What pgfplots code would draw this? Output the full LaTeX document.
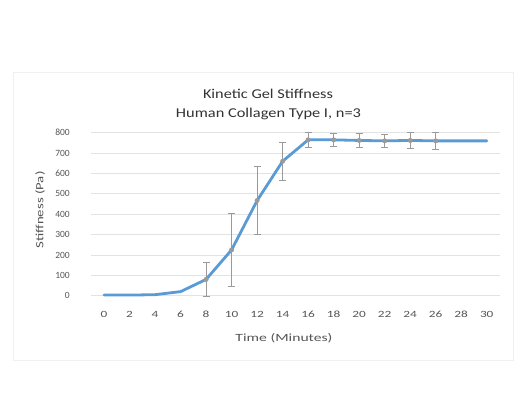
\documentclass[border=0pt]{standalone}
\usepackage{fontspec}
\setmainfont{Carlito}
\usepackage{graphicx}
\usepackage{pgfplots}
\usepackage{pgfplotstable}
\pgfplotsset{compat=1.18}
\definecolor{xlblue}{HTML}{5B9BD5}
\definecolor{gridgray}{HTML}{E3E3E3}
\definecolor{labgray}{HTML}{555555}
\definecolor{errgray}{HTML}{9A9A9A}
\definecolor{titlegray}{HTML}{333333}
\pgfplotstableread{
t y err
0 3 0
2 3 0
4 5 0
6 20 0
8 80 82
10 225 178
12 467 167
14 660 92
16 765 36
18 765 33
20 762 34
22 760 33
24 762 38
26 760 41
28 760 0
30 760 0
}\stiff
\pgfplotstableread{
t y err
8 80 82
10 225 178
12 467 167
14 660 92
16 765 36
18 765 33
20 762 34
22 760 33
24 762 38
26 760 41
}\stifferr
\begin{document}
\begin{tikzpicture}[x=1pt,y=1pt]
\fill[white] (0,0) rectangle (515,418);
\draw[gray!12, line width=0.8pt] (13.5,58) rectangle (513.5,346);
\begin{axis}[
  at={(91.3pt,122.3pt)}, anchor=south west,
  scale only axis, width=408.2pt, height=163pt,
  xmin=-1, xmax=31, ymin=0, ymax=800,
  xtick={0,2,...,30}, ytick={0,100,...,800},
  axis line style={draw=none},
  major tick length=0pt,
  ymajorgrids, grid style={color=gridgray, line width=0.8pt},
  clip=false,
  /pgf/number format/assume math mode=true,
  yticklabel style={font=\fontsize{9.5}{11}\selectfont, text=labgray, xshift=-18pt},
  xticklabel={\scalebox{1.4}[1]{\pgfmathprintnumber{\tick}}},
  xticklabel style={font=\fontsize{9.5}{11}\selectfont, text=labgray, yshift=-12pt},
]
\addplot[only marks, mark=none, errgray, line width=0.9pt,
  error bars/.cd, y dir=both, y explicit,
  error bar style={errgray, line width=0.9pt},
  error mark options={rotate=90, mark size=3.5pt, errgray, line width=0.9pt}]
  table[x=t, y=y, y error=err] {\stifferr};
\addplot[xlblue, line width=2.8pt, line join=round, line cap=round, mark=none] table[x=t, y=y] {\stiff};
\end{axis}
\node[text=titlegray, font=\fontsize{13.5}{14}\selectfont] at (268,418-94.3) {\resizebox{130pt}{\height}{Kinetic Gel Stiffness}};
\node[text=titlegray, font=\fontsize{13.5}{14}\selectfont] at (268.5,418-114) {\resizebox{185pt}{\height}{Human Collagen Type I, n=3}};
\node[text=labgray, font=\fontsize{11}{12}\selectfont] at (284,418-338) {\resizebox{97pt}{\height}{Time (Minutes)}};
\node[text=labgray, font=\fontsize{11}{12}\selectfont, rotate=90] at (40,418-210) {\resizebox{77pt}{\height}{Stiffness (Pa)}};
\end{tikzpicture}
\end{document}
